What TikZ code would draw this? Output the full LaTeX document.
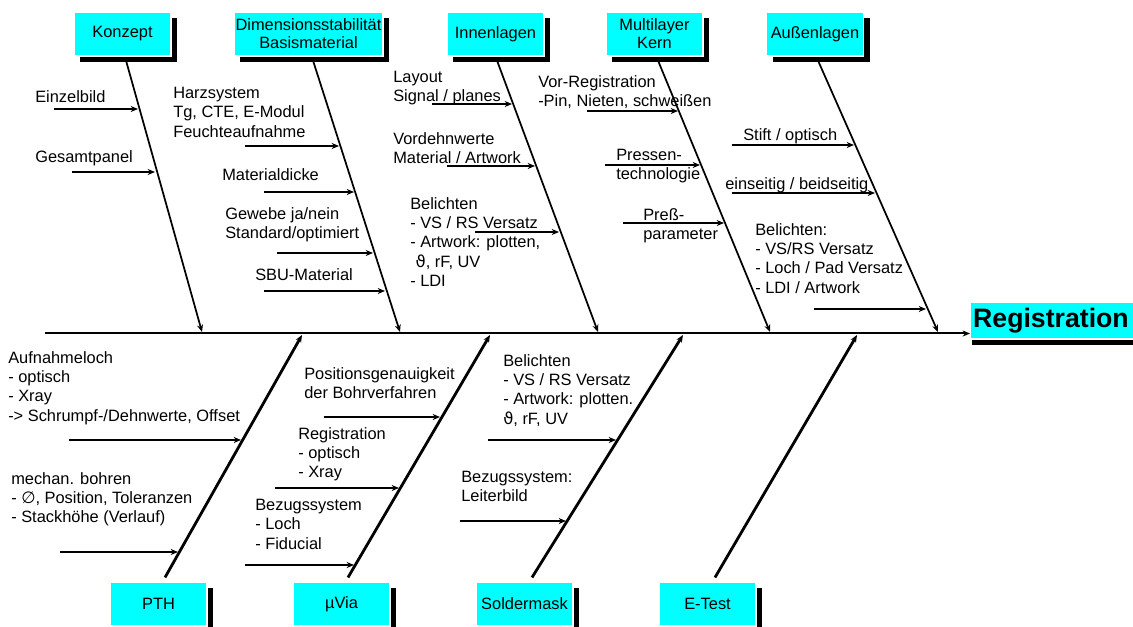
\documentclass[tikz,border=0pt]{standalone}
\usepackage{fontspec}
\setmainfont{Liberation Sans}
\newfontfamily\dvfont{DejaVu Sans}
\usetikzlibrary{arrows.meta,shadows,calc}
\definecolor{boxcyan}{RGB}{0,255,255}
\tikzset{
  catbox/.style={fill=boxcyan, draw=white, line width=0.8pt, minimum width=72.75pt,
    minimum height=33pt, inner sep=1pt, align=center,
    font=\fontsize{12.3}{13.5}\selectfont,
    general shadow={fill=black, shadow xshift=4.5pt, shadow yshift=-4.5pt}},
  lbl/.style={anchor=north west, inner sep=0pt, align=left,
    font=\fontsize{12.3}{14.5}\selectfont},
  tipa/.style={-{Stealth[length=5.5pt,width=4.5pt]}},
  sub/.style={tipa, line width=1.5pt},
  bone/.style={tipa, line width=1.3pt},
  lbone/.style={tipa, line width=2.1pt},
  spine/.style={line width=1.5pt},
}
\begin{document}
\begin{tikzpicture}[x=0.75pt,y=-0.75pt]
\useasboundingbox (0,0) rectangle (1133,627);

% ---------- category boxes (top) ----------
\node[catbox] (konzept) at (122.5,34) {Konzept};
\node[catbox, minimum width=111.75pt] (dimension) at (308.5,34) {Dimensionsstabilität\\Basismaterial};
\node[catbox] (innen) at (495.5,34) {Innenlagen};
\node[catbox] (multi) at (654.5,34) {Multilayer\\Kern};
\node[catbox] (aussen) at (815,34) {Außenlagen};

% ---------- category boxes (bottom) ----------
\node[catbox] (pth) at (158.5,604) {PTH};
\node[catbox] (uvia) at (341.5,604) {µVia};
\node[catbox] (solder) at (524.5,604) {Soldermask};
\node[catbox] (etest) at (707.5,604) {E-Test};

% ---------- effect box ----------
\node[catbox, anchor=west, minimum width=0pt, minimum height=27.75pt, text width=130pt,
      align=left, inner sep=2pt, font=\fontsize{20}{24}\selectfont\bfseries,
      general shadow={fill=black, shadow xshift=1pt, shadow yshift=-4.5pt}]
      (reg) at (970,320.5) {Registration};

% ---------- spine ----------
\coordinate (sL) at (45,333.5);
\draw[spine, tipa] (sL) -- (sL -| reg.west);

% ---------- spine junctions ----------
\coordinate (kE) at (202,332);
\coordinate (dE) at (400,332);
\coordinate (iE) at (598,332);
\coordinate (mE) at (770,332);
\coordinate (aE) at (938,332);
\coordinate (pE) at (302,335);
\coordinate (uE) at (490,335);
\coordinate (sE) at (683,335);
\coordinate (eE) at (857,335);

% ---------- main bones ----------
\draw[bone] ($(konzept.south)+(3.5,4)$) -- (kE);
\draw[bone] ($(dimension.south)+(4.5,4)$) -- (dE);
\draw[bone] ($(innen.south)+(1.5,4)$) -- (iE);
\draw[bone] ($(multi.south)+(3.5,4)$) -- (mE);
\draw[bone] ($(aussen.south)+(3,4)$) -- (aE);
\draw[lbone] ($(pth.north)+(6.5,-4)$) -- (pE);
\draw[lbone] ($(uvia.north)+(6.5,-4)$) -- (uE);
\draw[lbone] ($(solder.north)+(7.5,-4)$) -- (sE);
\draw[lbone] ($(etest.north)+(7.5,-4)$) -- (eE);

% ---------- sub-bone coordinates ----------
\coordinate (k1s) at (54,109);  \coordinate (k1e) at (138,109);
\coordinate (k2s) at (72,172);  \coordinate (k2e) at (155,172);
\coordinate (d1s) at (245,146); \coordinate (d1e) at (339,146);
\coordinate (d2s) at (264,192); \coordinate (d2e) at (354,192);
\coordinate (d3s) at (277,253); \coordinate (d3e) at (373,253);
\coordinate (d4s) at (264,291); \coordinate (d4e) at (385,291);
\coordinate (i1s) at (432,104); \coordinate (i1e) at (512,104);
\coordinate (i2s) at (447,166); \coordinate (i2e) at (535,166);
\coordinate (i3s) at (475,232); \coordinate (i3e) at (559,232);
\coordinate (m1s) at (587,111); \coordinate (m1e) at (678,111);
\coordinate (m2s) at (605,165); \coordinate (m2e) at (700,165);
\coordinate (m3s) at (623,223); \coordinate (m3e) at (724,223);
\coordinate (a1s) at (732,145); \coordinate (a1e) at (854,145);
\coordinate (a2s) at (732,193); \coordinate (a2e) at (875,193);
\coordinate (a3s) at (814,309); \coordinate (a3e) at (926,309);
\coordinate (p1s) at (69,440);  \coordinate (p1e) at (241,440);
\coordinate (p2s) at (60,552);  \coordinate (p2e) at (178,552);
\coordinate (u1s) at (324,417); \coordinate (u1e) at (440,417);
\coordinate (u2s) at (275,488); \coordinate (u2e) at (399,488);
\coordinate (u3s) at (245,565); \coordinate (u3e) at (354,565);
\coordinate (s1s) at (488,440); \coordinate (s1e) at (616,440);
\coordinate (s2s) at (460,521); \coordinate (s2e) at (566,521);

\foreach \c in {k1,k2,d1,d2,d3,d4,i1,i2,i3,m1,m2,m3,a1,a2,a3,p1,p2,u1,u2,u3,s1,s2}
  \draw[sub] (\c s) -- (\c e);

% ---------- labels ----------
\node[lbl] (tk1) at (35,90) {Einzelbild};
\node[lbl] (tk2) at (35,150) {Gesamtpanel};
\node[lbl] (td1) at (173,87) {Harzsystem\\Tg, CTE, E-Modul\\Feuchteaufnahme};
\node[lbl] (td2) at (222,168) {Materialdicke};
\node[lbl] (td3) at (225,207) {Gewebe ja/nein\\Standard/optimiert};
\node[lbl] (td4) at (255,268) {SBU-Material};
\node[lbl] (ti1) at (393,71) {Layout\\Signal / planes};
\node[lbl] (ti2) at (393,132) {Vordehnwerte\\Material / Artwork};
\node[lbl] (ti3) at (410,197) {Belichten\\- VS / RS Versatz\\- Artwork: plotten,\\\hspace*{4pt}{\dvfont ϑ}, rF, UV\\- LDI};
\node[lbl] (tm1) at (538,75) {Vor-Registration\\-Pin, Nieten, schweißen};
\node[lbl] (tm2) at (616,149) {Pressen-\\technologie};
\node[lbl] (tm3) at (643,208) {Preß-\\parameter};
\node[lbl] (ta1) at (743,128) {Stift / optisch};
\node[lbl] (ta2) at (725,177) {einseitig / beidseitig};
\node[lbl] (ta3) at (755,223) {Belichten:\\- VS/RS Versatz\\- Loch / Pad Versatz\\- LDI / Artwork};
\node[lbl] (tp1) at (8,351) {Aufnahmeloch\\- optisch\\- Xray\\-> Schrumpf-/Dehnwerte, Offset};
\node[lbl] (tp2) at (11,472) {mechan. bohren\\- {\dvfont ∅}, Position, Toleranzen\\- Stackhöhe (Verlauf)};
\node[lbl] (tu1) at (304,367) {Positionsgenauigkeit\\der Bohrverfahren};
\node[lbl] (tu2) at (298,427) {Registration\\- optisch\\- Xray};
\node[lbl] (tu3) at (255,499) {Bezugssystem\\- Loch\\- Fiducial};
\node[lbl] (ts1) at (503,354) {Belichten\\- VS / RS Versatz\\- Artwork: plotten.\\{\dvfont ϑ}, rF, UV};
\node[lbl] (ts2) at (461,471) {Bezugssystem:\\Leiterbild};
\end{tikzpicture}
\end{document}
